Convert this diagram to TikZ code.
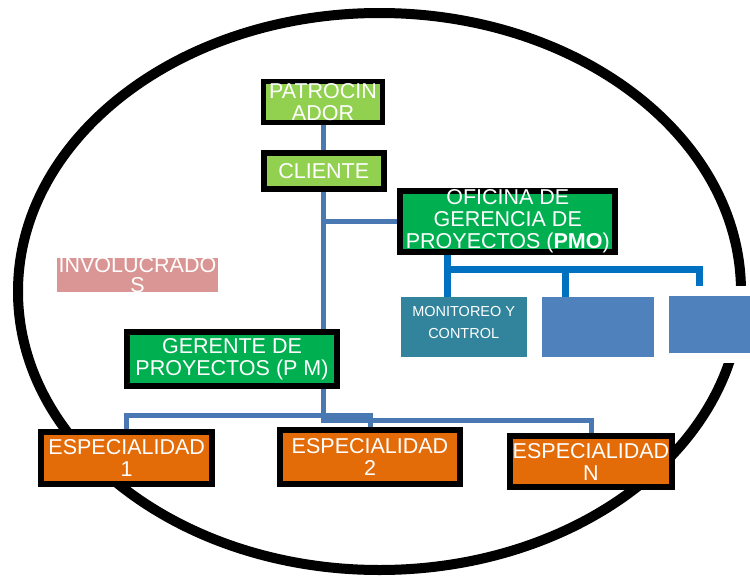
\documentclass[tikz,border=0pt]{standalone}
\usepackage{fontspec}
\setmainfont{Liberation Sans}
\definecolor{lightgreen}{HTML}{92D050}
\definecolor{darkgreen}{HTML}{00B050}
\definecolor{specorange}{HTML}{E36C09}
\definecolor{monteal}{HTML}{31849B}
\definecolor{accentblue}{HTML}{4F81BD}
\definecolor{pinkbox}{HTML}{DA9694}
\definecolor{connblue}{HTML}{4A78B3}
\definecolor{pmoblue}{HTML}{0070C0}
\newcommand\chartbig{\fontsize{21.5}{22}\selectfont}
\newcommand\chartsmall{\fontsize{14.5}{22}\selectfont}
\newcommand\chartinvol{\fontsize{21.5}{20.5}\selectfont}
\begin{document}
\begin{tikzpicture}[x=1pt,y=-1pt,
  framebox/.style={draw=black,line width=6pt,inner sep=0pt,text=white,align=center,font=\chartbig},
  flatbox/.style={inner sep=0pt},
  txt/.style={text=white,align=center,font=\chartbig,inner sep=0pt},
  conn/.style={draw=connblue,line width=5pt},
  pmoconn/.style={draw=pmoblue,line width=7pt}]
\useasboundingbox (0,0) rectangle (750,576);
\fill[white] (0,0) rectangle (750,576);

% surrounding stakeholder boundary
\draw[line width=10pt] (379.5,291.5) ellipse [x radius=361.5, y radius=278.5];

% bus levels
\coordinate (busA) at (0,415.5);
\coordinate (busB) at (0,420.5);
\coordinate (pj) at (447.5,269.5);

% main hierarchy boxes (drawn later, connectors first)
\path node[framebox,fill=lightgreen,line width=5pt,minimum width=119pt,minimum height=41pt] (patro) at (323,102) {}
      node[framebox,fill=lightgreen,minimum width=120pt,minimum height=36pt] (cliente) at (323.7,171) {}
      node[framebox,fill=darkgreen,minimum width=215pt,minimum height=61pt] (pmo) at (507.8,221.7) {}
      node[framebox,fill=darkgreen,minimum width=210pt,minimum height=54pt] (gerente) at (232,359) {}
      node[framebox,fill=specorange,minimum width=171pt,minimum height=52pt] (esp1) at (126.7,457.5) {}
      node[framebox,fill=specorange,minimum width=180pt,minimum height=54pt] (esp2) at (370,457) {}
      node[framebox,fill=specorange,minimum width=162pt,minimum height=51pt] (espN) at (591,461.7) {};

% connectors of the main line
\draw[conn] (patro.south) -- (patro.south |- cliente.north);
\draw[conn] (cliente.south) -- (cliente.south |- gerente.north);
\draw[conn] (cliente.south |- pmo.west) -- (pmo.west);
\draw[conn] (cliente.south |- gerente.south) -- (cliente.south |- busB) -- (espN.north |- busB) -- (espN.north);
\draw[conn] (esp1.north) -- (esp1.north |- busA) -- (esp2.north |- busA) -- (esp2.north);

% boxes on top of the connectors
\node[framebox,fill=lightgreen,line width=5pt,minimum width=119pt,minimum height=41pt] at (patro) {PATROCIN\\ADOR};
\node[framebox,fill=lightgreen,minimum width=120pt,minimum height=36pt] at (cliente) {CLIENTE};
\node[framebox,fill=darkgreen,minimum width=215pt,minimum height=61pt,
  label={[txt]center:OFICINA DE\\GERENCIA DE\\PROYECTOS (\textbf{PMO})}] at (pmo) {};
\node[framebox,fill=darkgreen,minimum width=210pt,minimum height=54pt] at (gerente) {GERENTE DE\\PROYECTOS (P M)};
\node[framebox,fill=specorange,minimum width=171pt,minimum height=52pt] at (esp1) {ESPECIALIDAD\\1};
\node[framebox,fill=specorange,minimum width=180pt,minimum height=54pt] at (esp2) {ESPECIALIDAD\\2};
\node[framebox,fill=specorange,minimum width=162pt,minimum height=51pt] at (espN) {ESPECIALIDAD\\N};

% stakeholders label
\node[flatbox,fill=pinkbox,minimum width=161pt,minimum height=34pt,
  label={[txt,font=\chartinvol]center:INVOLUCRADO\\S}] (invol) at (137.5,275) {};

% boxes under the PMO
\node[flatbox,fill=monteal,minimum width=126pt,minimum height=60pt,
  label={[txt,font=\chartsmall,yshift=4pt]center:MONITOREO Y\\CONTROL}] (mon) at (463.7,327) {};
\node[flatbox,fill=accentblue,minimum width=112pt,minimum height=60pt] (box2) at (598,327) {};
% the white rim hides the boundary line where this box overlaps it
\node[flatbox,fill=accentblue,draw=white,line width=10pt,minimum width=111pt,minimum height=67pt] (box3) at (719.5,324.5) {};

% PMO connectors
\draw[pmoconn] (pmo.south -| pj) -- (pj |- mon.north);
\draw[pmoconn] (pj) -| ([xshift=-20.5pt]box3.north);
\draw[pmoconn] ([xshift=-33pt]box2.north) -- ([xshift=-33pt]box2.north |- pj);
\end{tikzpicture}
\end{document}
